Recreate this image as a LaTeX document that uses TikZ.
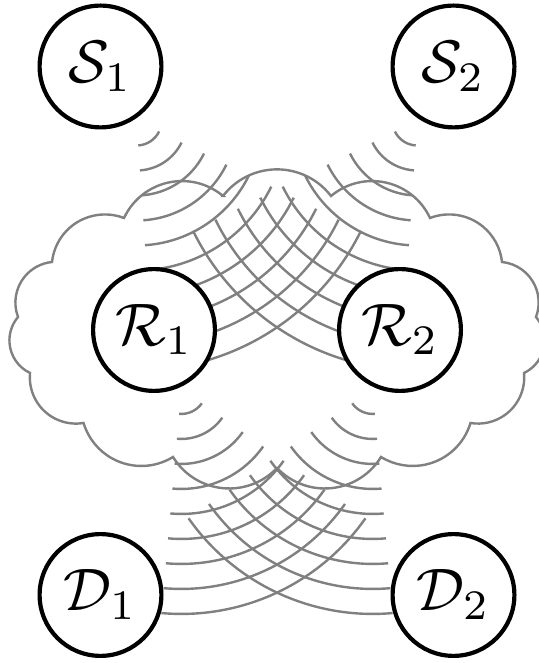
\documentclass[tikz,border=0pt]{standalone}
\usetikzlibrary{calc,backgrounds}
\begin{document}
\begin{tikzpicture}[x=0.1666667pt,y=0.1666667pt,
  station/.style={circle,draw=black,line width=0.7pt,fill=white,
    minimum size=20.3pt,inner sep=0pt},
  wave/.style={draw=gray,line width=0.4pt},
  cloudline/.style={draw=gray,line width=0.4pt,fill=white}]
\useasboundingbox (0,0) rectangle (539,663);

% stations
\node[station] (S1) at (100.5,596.5) {$\mathcal{S}_1$};
\node[station] (S2) at (453.5,596.5) {$\mathcal{S}_2$};
\node[station] (R1) at (154,333) {$\mathcal{R}_1$};
\node[station] (R2) at (400,333) {$\mathcal{R}_2$};
\node[station] (D1) at (100.5,68) {$\mathcal{D}_1$};
\node[station] (D2) at (453.5,68) {$\mathcal{D}_2$};

% aiming points of the wave fronts
\coordinate (MR) at ($(R1)!.5!(R2)$);
\coordinate (MD) at ($(D1)!.5!(D2)$);

% inner corners of the cloud
\foreach \i/\a/\b in {1/223/467, 2/331/467, 3/430/445, 4/502/401, 5/536/346,
  6/524/290, 7/470.5/240, 8/381/206, 9/277/195, 10/173/206, 11/83.5/240,
  12/30/290, 13/18/346, 14/52/401, 15/124/445}
  \coordinate (c\i) at (\a,\b);

\begin{scope}[on background layer]
  % cloud: one puff (circular arc of 105 degrees) between neighbouring corners
  \draw[cloudline] (c1)
    \foreach \i/\j in {1/2,2/3,3/4,4/5,5/6,6/7,7/8,8/9,9/10,10/11,11/12,
      12/13,13/14,14/15,15/1} {
      let \p1=(c\i), \p2=(c\j),
          \n1={atan2(\y2-\y1,\x2-\x1)},
          \n2={veclen(\x2-\x1,\y2-\y1)/(2*sin(52.5))} in
      arc[start angle=\n1+142.5, delta angle=-105, radius=\n2]
    } -- cycle;

  % expanding wave fronts
  \foreach \src/\dst/\num in {S1/MR/10,S2/MR/10,R1/MD/9,R2/MD/9}{
    \coordinate (wc) at ($(\src)!10.833pt!(\dst)$);
    \foreach \k in {1,...,\num}{
      \pgfmathsetmacro\rr{\k*25/6}
      \draw[wave] let \p1=($(\dst)-(\src)$), \n1={atan2(\y1,\x1)} in
        ($(wc)+(\n1-30:\rr pt)$) arc[start angle=\n1-30, delta angle=60, radius=\rr pt];
    }
  }
\end{scope}
\end{tikzpicture}
\end{document}
